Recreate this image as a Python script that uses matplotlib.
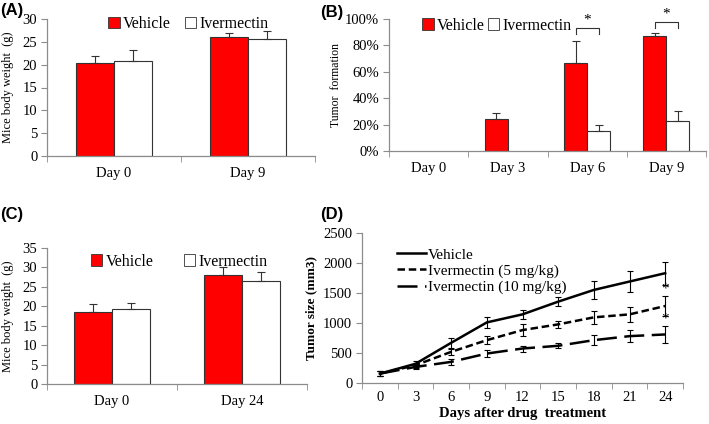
import numpy as np
import matplotlib.pyplot as plt
from matplotlib.patches import Patch
from matplotlib.lines import Line2D
from matplotlib.ticker import PercentFormatter

# -----------------------------
# Data
# -----------------------------
# (A) body weight, day 0 / day 9
a_days = ["Day 0", "Day 9"]
a_vehicle = [20.3, 26.0]
a_vehicle_err = [1.6, 0.9]
a_iver = [20.7, 25.7]
a_iver_err = [2.6, 1.6]

# (B) tumor formation (%)
b_days = ["Day 0", "Day 3", "Day 6", "Day 9"]
b_vehicle = [0, 24, 67, 87.5]
b_vehicle_err = [0, 4.5, 16, 2]
b_iver = [0, 0, 15, 22.5]
b_iver_err = [0, 0, 5, 8]

# (C) body weight, day 0 / day 24
c_days = ["Day 0", "Day 24"]
c_vehicle = [18.6, 28.0]
c_vehicle_err = [2.1, 2.0]
c_iver = [19.3, 26.4]
c_iver_err = [1.6, 2.4]

# (D) tumor size over time
d_days = [0, 3, 6, 9, 12, 15, 18, 21, 24]
d_vehicle = [156, 320, 670, 1010, 1144, 1356, 1551, 1691, 1830]
d_vehicle_err = [40, 50, 80, 90, 75, 75, 150, 170, 190]
d_iver5 = [156, 296, 519, 714, 882, 977, 1094, 1144, 1283]
d_iver5_err = [40, 40, 50, 70, 100, 60, 110, 120, 160]
d_iver10 = [156, 268, 352, 491, 575, 620, 714, 781, 809]
d_iver10_err = [40, 40, 50, 60, 50, 40, 80, 100, 140]

RED = "#ff0000"
GRAY = "#8c8c8c"
EDGE = "#333333"
plt.rcParams["font.family"] = ["Liberation Serif", "DejaVu Serif"]
plt.rcParams["font.size"] = 10.5

fig = plt.figure(figsize=(7.09, 4.24), dpi=100)


def style_axes(ax):
    for s in ["top", "right"]:
        ax.spines[s].set_visible(False)
    for s in ["left", "bottom"]:
        ax.spines[s].set_color(GRAY)
        ax.spines[s].set_linewidth(0.9)
    ax.tick_params(axis="y", direction="out", length=4, color=GRAY, pad=3)
    ax.tick_params(axis="x", which="major", length=0, pad=8)
    ax.tick_params(axis="x", which="minor", direction="out", length=4, color=GRAY)


def draw_bars(ax, xpos, vals, errs, width, color):
    vals = np.asarray(vals, dtype=float)
    errs = np.asarray(errs, dtype=float)
    nz = vals > 0
    ax.bar(xpos[nz], vals[nz], width, color=color, edgecolor=EDGE, linewidth=0.8)
    ax.errorbar(xpos[nz], vals[nz], yerr=[np.zeros(nz.sum()), errs[nz]], fmt="none",
                ecolor=EDGE, elinewidth=0.8, capsize=3, capthick=0.8)


def bar_panel(ax, cats, veh, veh_err, ive, ive_err, width):
    x = np.arange(len(cats))
    draw_bars(ax, x - width / 2, veh, veh_err, width, RED)
    draw_bars(ax, x + width / 2, ive, ive_err, width, "white")
    ax.set_xlim(-0.5, len(cats) - 0.5)
    ax.set_xticks(x)
    ax.set_xticklabels(cats)
    ax.set_xticks(np.arange(len(cats) + 1) - 0.5, minor=True)
    style_axes(ax)
    return x


def bar_legend(ax, loc_x, loc_y, spacing):
    handles = [Patch(facecolor=RED, edgecolor=EDGE, linewidth=0.6),
               Patch(facecolor="white", edgecolor=EDGE, linewidth=0.6)]
    ax.legend(handles, ["Vehicle", "Ivermectin"], ncol=2, frameon=False,
              loc="center left", bbox_to_anchor=(loc_x, loc_y),
              handlelength=0.7, handleheight=0.7, handletextpad=0.2,
              columnspacing=spacing, fontsize=11.5, borderaxespad=0)


# -----------------------------
# (A)
# -----------------------------
axA = fig.add_axes([47 / 709, 1 - 156 / 424, 268 / 709, 137 / 424])
bar_panel(axA, a_days, a_vehicle, a_vehicle_err, a_iver, a_iver_err, 0.285)
axA.set_ylim(0, 30)
axA.set_yticks(range(0, 31, 5))
axA.set_ylabel("Mice body weight  (g)", fontsize=9, labelpad=6)
bar_legend(axA, 0.205, 0.96, 0.9)

# -----------------------------
# (B)
# -----------------------------
axB = fig.add_axes([389 / 709, 1 - 151 / 424, 317 / 709, 132 / 424])
xb = bar_panel(axB, b_days, b_vehicle, b_vehicle_err, b_iver, b_iver_err, 0.29)
axB.set_ylim(0, 100)
axB.set_yticks(range(0, 101, 20))
axB.yaxis.set_major_formatter(PercentFormatter(decimals=0))
axB.set_ylabel("Tumor  formation", fontsize=8.5, labelpad=2)
bar_legend(axB, 0.085, 0.95, 0.2)
# significance brackets
for i, top in [(2, 93), (3, 97.5)]:
    x0, x1 = xb[i] - 0.145, xb[i] + 0.145
    axB.plot([x0, x0, x1, x1], [top - 4, top, top, top - 4], color=EDGE, lw=0.8, clip_on=False)
    axB.text(xb[i], top + 1, "*", ha="center", va="bottom", fontsize=11, clip_on=False)

# -----------------------------
# (C)
# -----------------------------
axC = fig.add_axes([47 / 709, 1 - 384 / 424, 260 / 709, 136 / 424])
bar_panel(axC, c_days, c_vehicle, c_vehicle_err, c_iver, c_iver_err, 0.29)
axC.set_ylim(0, 35)
axC.set_yticks(range(0, 36, 5))
axC.set_ylabel("Mice body weight  (g)", fontsize=9, labelpad=6)
bar_legend(axC, 0.145, 0.9, 1.9)

# -----------------------------
# (D)
# -----------------------------
axD = fig.add_axes([362 / 709, 1 - 383 / 424, 321 / 709, 150 / 424])
ekw = dict(color="black", ecolor="black", elinewidth=0.8, capsize=2.5, capthick=0.8)
axD.errorbar(d_days, d_vehicle, yerr=d_vehicle_err, linestyle="-", lw=1.8, **ekw)
axD.errorbar(d_days, d_iver5, yerr=d_iver5_err, linestyle=(0, (3, 1.5)), lw=1.8, **ekw)
axD.errorbar(d_days, d_iver10, yerr=d_iver10_err, linestyle=(0, (8, 3)), lw=1.8, **ekw)
axD.text(24, d_iver5[-1] + d_iver5_err[-1] + 10, "*", ha="center", va="bottom", fontsize=11)
axD.text(24, d_iver10[-1] + d_iver10_err[-1] + 10, "*", ha="center", va="bottom", fontsize=11)
axD.set_xlim(-1.5, 25.5)
axD.set_xticks(d_days)
axD.set_xticks(np.arange(-1.5, 25.6, 3), minor=True)
axD.set_ylim(0, 2500)
axD.set_yticks(range(0, 2501, 500))
style_axes(axD)
axD.tick_params(axis="x", which="major", pad=6)
axD.set_ylabel("Tumor size (mm3)", fontsize=9.5, fontweight="bold")
axD.set_xlabel("Days after drug  treatment", fontsize=10.5, fontweight="bold", labelpad=2)
legend_lines = [Line2D([], [], color="black", lw=1.8, linestyle="-"),
                Line2D([], [], color="black", lw=1.8, linestyle=(0, (3, 1.5))),
                Line2D([], [], color="black", lw=1.8, linestyle=(0, (8, 3)))]
axD.legend(legend_lines, ["Vehicle", "Ivermectin (5 mg/kg)", "Ivermectin (10 mg/kg)"],
           loc="upper left", bbox_to_anchor=(0.09, 0.94), frameon=False,
           handlelength=1.9, handletextpad=0.15, labelspacing=0.15, fontsize=11, borderaxespad=0)

# panel letters
for lbl, (px, py) in {"(A)": (0, 11), "(B)": (320, 12), "(C)": (0, 214), "(D)": (320, 215)}.items():
    fig.text(px / 709, 1 - py / 424, lbl, fontsize=12, fontweight="bold",
             family=["Liberation Sans", "DejaVu Sans"], va="center", ha="left")

fig.savefig("out.png", dpi=100)
plt.close(fig)
